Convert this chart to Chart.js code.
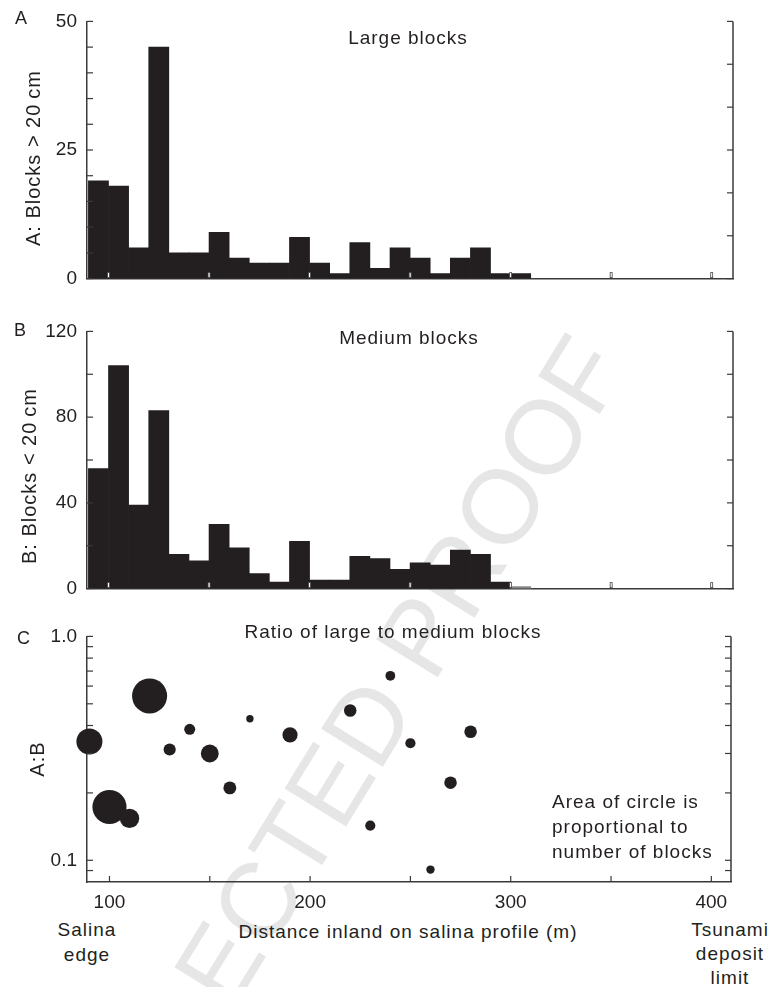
<!DOCTYPE html>
<html>
<head>
<meta charset="utf-8">
<script src="https://cdn.jsdelivr.net/npm/chart.js@4.4.1/dist/chart.umd.min.js"></script>
<style>
  body { margin: 0; background: #fff; }
  #wrap { position: relative; width: 773px; height: 987px; overflow: hidden; }
  canvas { position: absolute; left: 0; }
  .t { position: absolute; font: 19px "Liberation Sans", Arial, sans-serif; letter-spacing: 1px;
       color: #231f20; white-space: nowrap; transform: translate(-50%, -50%); }
  .rot { font-size: 20px; transform: translate(-50%, -50%) rotate(-90deg); }
  .panel { font-size: 18px; letter-spacing: 0; transform: none; }
  .block { transform: none; line-height: 25px; }
  .mid { text-align: center; transform: translateX(-50%); }
  #watermark { position: absolute; left: 0; top: 0; }
</style>
</head>
<body>
<div id="wrap">
  <svg id="watermark" width="773" height="987">
    <text x="-10" y="1405" transform="rotate(-58.4 -10 1405)" font-family="Liberation Sans, Arial, sans-serif"
          font-size="105" fill="#e6e6e6">UNCORRECTED PROOF</text>
  </svg>

  <canvas id="chartA" width="773" height="300" style="top:0"></canvas>
  <canvas id="chartB" width="773" height="300" style="top:310px"></canvas>
  <canvas id="chartC" width="773" height="300" style="top:615px"></canvas>

  <div class="t panel" style="left:15px;top:8px">A</div>
  <div class="t panel" style="left:14px;top:320px">B</div>
  <div class="t panel" style="left:17px;top:628px">C</div>

  <div class="t rot" style="left:33px;top:158px">A: Blocks &gt; 20&#8201;cm</div>
  <div class="t rot" style="left:29px;top:476px">B: Blocks &lt; 20&#8201;cm</div>
  <div class="t rot" style="left:37px;top:759px">A:B</div>

  <div class="t" style="left:408px;top:38px">Large blocks</div>
  <div class="t" style="left:409px;top:338px">Medium blocks</div>
  <div class="t" style="left:393px;top:632px">Ratio of large to medium blocks</div>

  <div class="t block" style="left:552px;top:789px">Area of circle is<br>proportional to<br>number of blocks</div>

  <div class="t block mid" style="left:87px;top:917px">Salina<br>edge</div>
  <div class="t" style="left:408px;top:932px">Distance inland on salina profile (m)</div>
  <div class="t block mid" style="left:730px;top:918px;line-height:24px">Tsunami<br>deposit<br>limit</div>
</div>

<script>
// bins along the salina profile (start of each 10 m bin)
const binStart = [90, 100, 110, 120, 130, 140, 150, 160, 170, 180, 190,
                  200, 210, 220, 230, 240, 250, 260, 270, 280, 290, 300];
const BIN = 10;

// block counts per bin
const largeBlocks  = [19, 18, 6, 45, 5, 5, 9, 4, 3, 3, 8, 3, 1, 7, 2, 6, 4, 1, 4, 6, 1, 1];
const mediumBlocks = [56, 104, 39, 83, 16, 13, 30, 19, 7, 3, 22, 4, 4, 15, 14, 9, 12, 11, 18, 16, 3, 1];

// only bins with at least this many blocks get a ratio circle
const MIN_BLOCKS = 10;

// axis ticks
const xTicks = [100, 150, 200, 250, 300, 350, 400];
const aLabels = [0, 25, 50];
const aMinor = [0, 5, 10, 15, 20, 25, 30, 35, 40, 45, 50];
const aRight = [0, 8.33, 16.67, 25, 33.33, 41.67, 50];
const bLabels = [0, 40, 80, 120];
const bMinor = [0, 20, 40, 60, 80, 100, 120];
const ratioLabels = [0.1, 1.0];
const ratioMinor = [0.09, 0.1, 0.2, 0.3, 0.4, 0.5, 0.6, 0.7, 0.8, 0.9, 1.0];

const INK = "#231f20";
const AXIS = "#3a3a3a";
const FONT = { family: "'Liberation Sans', Arial, sans-serif", size: 19 };

// small ticks drawn inward from the frame + right frame line
function frameTicks(specs) {
    return {
        id: "frameTicks",
        afterDatasetsDraw(chart) {
            const ctx = chart.ctx, a = chart.chartArea;
            ctx.save();
            ctx.strokeStyle = AXIS;
            ctx.lineWidth = 1.5;
            ctx.beginPath();
            ctx.moveTo(a.right, a.top);
            ctx.lineTo(a.right, a.bottom);
            ctx.stroke();
            specs.forEach(s => {
                const sc = chart.scales[s.scale];
                s.values.forEach(v => {
                    const p = sc.getPixelForValue(v);
                    if (s.side === "bottom") {
                        if (s.hollow) {
                            ctx.lineWidth = 0.8;
                            ctx.fillStyle = "#fff";
                            ctx.fillRect(p - 1, a.bottom - 6, 2, 5);
                            ctx.strokeStyle = "#444";
                            ctx.strokeRect(p - 1, a.bottom - 6, 2, 5);
                        } else {
                            ctx.lineWidth = 1.2;
                            ctx.strokeStyle = AXIS;
                            ctx.beginPath();
                            ctx.moveTo(p, a.bottom);
                            ctx.lineTo(p, a.bottom - 6);
                            ctx.stroke();
                        }
                    } else {
                        const x0 = s.side === "left" ? a.left : a.right;
                        const dir = s.side === "left" ? 1 : -1;
                        ctx.lineWidth = 1.2;
                        ctx.strokeStyle = AXIS;
                        ctx.beginPath();
                        ctx.moveTo(x0, p);
                        ctx.lineTo(x0 + dir * 6, p);
                        ctx.stroke();
                    }
                });
            });
            ctx.restore();
        }
    };
}

function xScale(min, max, showLabels, height) {
    return {
        type: "linear", min: min, max: max, z: 1, offset: false,
        afterBuildTicks: s => { s.ticks = xTicks.map(v => ({ value: v })); },
        afterFit: s => { s.height = height; },
        grid: { display: false, drawTicks: false, offset: false },
        border: { display: true, color: AXIS, width: 1.5 },
        ticks: {
            display: showLabels, padding: 9, font: FONT, color: INK, autoSkip: false, maxRotation: 0,
            callback: v => (v % 100 === 0 ? String(v) : "")
        }
    };
}

function yScale(extra, labels) {
    return Object.assign({
        z: 1,
        afterBuildTicks: s => { s.ticks = labels.map(v => ({ value: v })); },
        afterFit: s => { s.width = 87; },
        grid: { display: false, drawTicks: false },
        border: { display: true, color: AXIS, width: 1.5 },
        ticks: { padding: 10, font: FONT, color: INK, autoSkip: false }
    }, extra);
}

function barChart(id, counts, yMax, labels, minor, right, padTop) {
    return new Chart(document.getElementById(id), {
        type: "bar",
        data: {
            datasets: [{
                data: counts.map((v, k) => ({ x: binStart[k] + BIN / 2, y: v })),
                backgroundColor: c => (id === "chartB" && c.dataIndex === counts.length - 1 ? "#8a8a8a" : INK),
                borderWidth: 0,
                barPercentage: 1,
                categoryPercentage: 1
            }]
        },
        options: {
            responsive: false,
            animation: false,
            events: [],
            layout: { padding: { top: padTop, right: 40, left: 0, bottom: 0 } },
            plugins: { legend: { display: false }, tooltip: { enabled: false } },
            scales: {
                x: xScale(89.3, 410.6, false, 18),
                y: yScale({ min: 0, max: yMax }, labels)
            }
        },
        plugins: [frameTicks([
            { scale: "x", side: "bottom", values: xTicks, hollow: true },
            { scale: "y", side: "left", values: minor },
            { scale: "y", side: "right", values: right }
        ])]
    });
}

barChart("chartA", largeBlocks, 50, aLabels, aMinor, aRight, 17);
barChart("chartB", mediumBlocks, 120, bLabels, bMinor, bMinor, 20);

// ratio of large to medium blocks, circle area ~ total number of blocks
const ratioPoints = [];
binStart.forEach((d, k) => {
    const n = largeBlocks[k] + mediumBlocks[k];
    if (n >= MIN_BLOCKS) {
        ratioPoints.push({ x: d, y: largeBlocks[k] / mediumBlocks[k], n: n });
    }
});

new Chart(document.getElementById("chartC"), {
    type: "scatter",
    data: {
        datasets: [{
            data: ratioPoints,
            pointRadius: c => (c.raw ? 1.7 * Math.sqrt(c.raw.n) - 1.7 : 3),
            pointBackgroundColor: INK,
            pointBorderWidth: 0,
            clip: false
        }]
    },
    options: {
        responsive: false,
        animation: false,
        events: [],
        layout: { padding: { top: 20, right: 42, left: 0, bottom: 0 } },
        plugins: { legend: { display: false }, tooltip: { enabled: false } },
        scales: {
            x: xScale(88.8, 409.8, true, 33),
            y: yScale({
                type: "logarithmic", min: 0.08, max: 1,
                ticks: { padding: 10, font: FONT, color: INK, autoSkip: false, callback: v => Number(v).toFixed(1) }
            }, ratioLabels)
        }
    },
    plugins: [frameTicks([
        { scale: "x", side: "bottom", values: xTicks },
        { scale: "y", side: "left", values: ratioMinor },
        { scale: "y", side: "right", values: ratioMinor }
    ])]
});
</script>
</body>
</html>
